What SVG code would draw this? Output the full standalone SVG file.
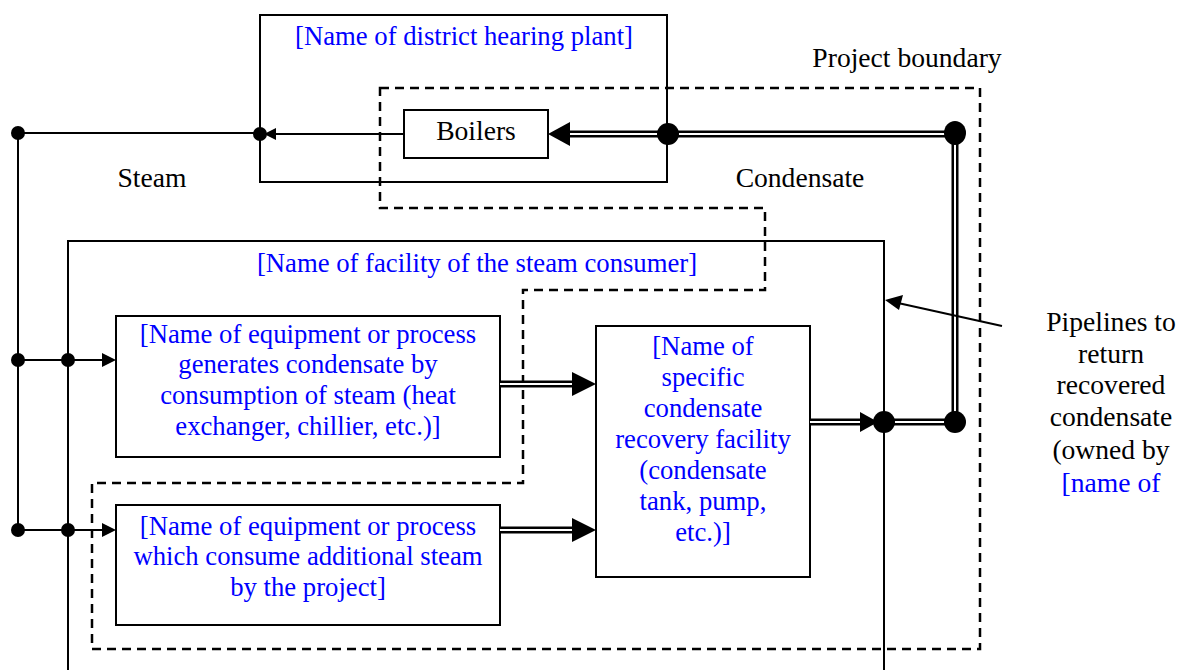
<svg xmlns="http://www.w3.org/2000/svg" width="1180" height="670" viewBox="0 0 1180 670">
<style>
text{font-family:"Liberation Serif","Times New Roman",serif;}
.b{fill:#0000ff;text-anchor:middle;font-size:26.7px;}
.k{fill:#000;text-anchor:middle;font-size:27.6px;}
.box{fill:none;stroke:#000;stroke-width:2;}
.ln{fill:none;stroke:#000;stroke-width:2;}
.dash{fill:none;stroke:#000;stroke-width:2.5;stroke-dasharray:9,6;}
.dblo{fill:none;stroke:#000;stroke-width:7;}
.dbli{fill:none;stroke:#fff;stroke-width:2;}
.dot{fill:#000;}
.ah{fill:#000;}
</style>
<rect width="1180" height="670" fill="#fff"/>
<g id="district-plant">
<rect class="box" x="260" y="15" width="407" height="167"/>
<text class="b" x="464" y="45">[Name of district hearing plant]</text>
</g>
<g id="project-boundary">
<path class="dash" d="M380,88 H980 V649 H92 V483 H523 V290 H765 V208 H380 Z"/>
<text class="k" x="907" y="67">Project boundary</text>
</g>
<g id="consumer-facility">
<path class="box" d="M68,670 V241 H884 V670"/>
<text class="b" x="477" y="272">[Name of facility of the steam consumer]</text>
</g>
<g id="boilers">
<rect class="box" x="404" y="110" width="144" height="48"/>
<text class="k" x="476" y="140">Boilers</text>
</g>
<g id="equipment1">
<rect class="box" x="116" y="316" width="384" height="141"/>
<text class="b" x="308" y="343">[Name of equipment or process</text>
<text class="b" x="308" y="373">generates condensate by</text>
<text class="b" x="308" y="404">consumption of steam (heat</text>
<text class="b" x="308" y="435">exchanger, chillier, etc.)]</text>
</g>
<g id="equipment2">
<rect class="box" x="116" y="505" width="384" height="120"/>
<text class="b" x="308" y="535">[Name of equipment or process</text>
<text class="b" x="308" y="565">which consume additional steam</text>
<text class="b" x="308" y="596">by the project]</text>
</g>
<g id="recovery-facility">
<rect class="box" x="596" y="326" width="214" height="251"/>
<text class="b" x="703" y="355">[Name of</text>
<text class="b" x="703" y="386">specific</text>
<text class="b" x="703" y="417">condensate</text>
<text class="b" x="703" y="448">recovery facility</text>
<text class="b" x="703" y="479">(condensate</text>
<text class="b" x="703" y="510">tank, pump,</text>
<text class="b" x="703" y="541">etc.)]</text>
</g>
<g id="labels">
<text class="k" x="152" y="187">Steam</text>
<text class="k" x="800" y="187">Condensate</text>
<text class="k" x="1111" y="331">Pipelines to</text>
<text class="k" x="1111" y="363">return</text>
<text class="k" x="1111" y="394">recovered</text>
<text class="k" x="1111" y="426">condensate</text>
<text class="k" x="1111" y="459">(owned by</text>
<text class="b" x="1111" y="492" style="font-size:27.6px">[name of</text>
</g>
<g id="connectors">
<path class="ln" d="M404,134 H260"/>
<polygon class="ah" points="264,134 276,128 276,140"/>
<path class="ln" d="M260,133 H18 V530"/>
<path class="ln" d="M18,360 H104"/>
<polygon class="ah" points="116,360 102,353 102,367"/>
<path class="ln" d="M18,530 H104"/>
<polygon class="ah" points="116,530 102,523 102,537"/>
<circle class="dot" cx="18" cy="133" r="7"/>
<circle class="dot" cx="260" cy="134" r="7"/>
<circle class="dot" cx="18" cy="360" r="7"/>
<circle class="dot" cx="68" cy="360" r="7"/>
<circle class="dot" cx="18" cy="530" r="7"/>
<circle class="dot" cx="68" cy="530" r="7"/>
<path class="dblo" d="M568,134 H955 V422 H884"/>
<path class="dbli" d="M568,134 H955 V422 H884"/>
<polygon class="ah" points="548,134 570,122 570,146"/>
<path class="dblo" d="M500,384 H576"/>
<path class="dbli" d="M500,384 H576"/>
<polygon class="ah" points="596,384 572,372 572,396"/>
<path class="dblo" d="M500,530 H576"/>
<path class="dbli" d="M500,530 H576"/>
<polygon class="ah" points="596,530 572,518 572,542"/>
<path class="dblo" d="M810,422 H860"/>
<path class="dbli" d="M810,422 H860"/>
<polygon class="ah" points="878,422 860,412 860,432"/>
<circle class="dot" cx="668" cy="134" r="11"/>
<ellipse class="dot" cx="955" cy="133" rx="11" ry="12"/>
<circle class="dot" cx="955" cy="422" r="11"/>
<circle class="dot" cx="884" cy="422" r="11"/>
<path class="ln" d="M1002,326 L898,303"/>
<polygon class="ah" points="885,300 903,295 899,310"/>
</g>
</svg>
